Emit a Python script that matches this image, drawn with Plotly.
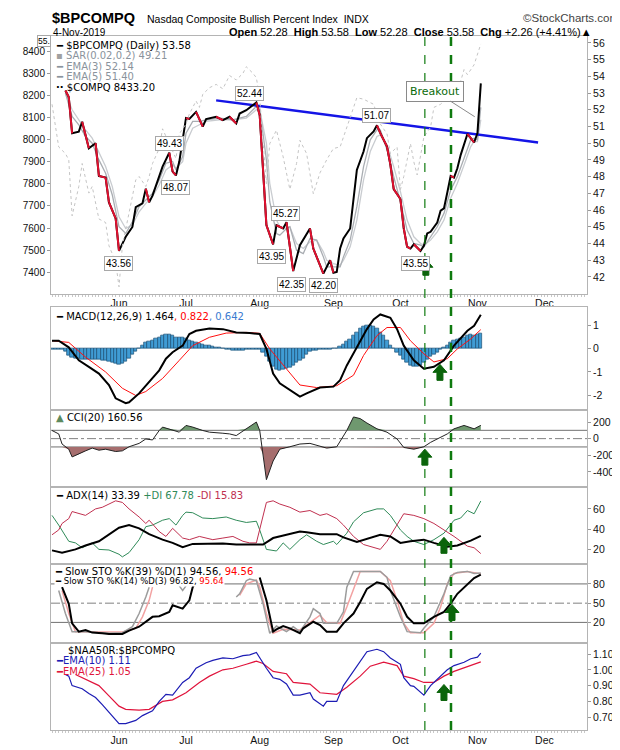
import plotly.graph_objects as go

# x positions are trading sessions counted from 3-Jun-2019 (0); 4-Nov-2019 is 108
month_days = [0, 20, 42, 64, 84, 107, 127]
month_labels = ["Jun", "Jul", "Aug", "Sep", "Oct", "Nov", "Dec"]

# $BPCOMPQ daily close
bp_day = [-16, -15, -14, -12, -11, -9, -7, -6, -4, -3, -1, 0, 2, 4, 5, 7, 8, 9, 10, 12,
          13, 15, 16, 17, 18, 20, 21, 23, 25, 26, 29, 31, 33, 35, 36, 38, 41, 42, 44, 46,
          47, 49, 50, 52, 54, 57, 58, 61, 63, 64, 65, 66, 67, 69, 70, 71, 73, 74, 76, 77,
          78, 80, 81, 82, 84, 85, 86, 87, 88, 90, 91, 92, 93, 95, 96, 97, 98, 99, 100, 101,
          102, 103, 104, 105, 106, 107, 108]
bp_val = [53.15, 52.76, 50.59, 50.69, 51.28, 49.7, 50.0, 48.04, 47.94, 46.46, 45.5, 43.56, 44.4, 44.99, 46.17, 46.4, 47.27, 46.46, 46.86, 48.04,
          48.6, 49.43, 48.3, 48.07, 48.9, 51.5, 51.45, 51.87, 50.99, 51.44, 51.58, 51.38, 51.58, 51.18, 51.77, 51.97, 52.44, 51.67, 45.1, 43.95,
          45.09, 44.9, 45.27, 42.35, 43.9, 44.9, 43.7, 42.2, 43.0, 42.25, 42.3, 43.7, 44.3, 44.9, 46.86, 48.4, 49.5, 50.3, 50.7, 51.07,
          50.6, 49.8, 48.72, 47.25, 46.66, 44.9, 43.8, 43.7, 43.95, 43.55, 43.86, 44.6, 44.7, 45.25, 45.97, 46.1, 47.05, 48.04, 47.94, 48.5,
          49.3, 50.0, 50.55, 50.3, 50.04, 50.6, 53.58]

# EMA(3) and EMA(5) of $BPCOMPQ
ema_day = [-16, -14, -12, -10, -8, -6, -4, -2, 0, 2, 4, 6, 8, 10, 12, 14, 16, 17, 19, 20,
           22, 24, 26, 30, 34, 38, 41, 42, 44, 45, 47, 48, 50, 51, 53, 55, 57, 59, 61, 62,
           64, 66, 67, 69, 71, 73, 75, 77, 78, 80, 82, 84, 86, 88, 90, 91, 93, 95, 97, 99,
           101, 103, 105, 106, 107, 108]
ema3_val = [53.0, 51.6, 51.1, 50.4, 50.0, 49.0, 48.2, 46.9, 45.0, 44.6, 45.3, 46.2, 46.6, 47.0, 47.8, 48.8, 48.9, 48.4, 49.2, 50.6,
            51.3, 51.3, 51.4, 51.5, 51.4, 51.6, 52.2, 52.1, 49.0, 46.5, 44.6, 44.5, 44.9, 45.0, 43.6, 43.4, 44.3, 44.2, 43.2, 42.6,
            42.6, 42.6, 43.2, 44.2, 46.2, 48.6, 50.2, 50.8, 50.8, 49.6, 48.0, 46.5, 44.8, 44.0, 43.9, 43.8, 44.4, 45.0, 45.8, 47.2,
            48.0, 49.1, 50.2, 50.3, 50.2, 52.14]
ema5_val = [53.0, 52.0, 51.4, 50.8, 50.3, 49.4, 48.6, 47.4, 45.6, 44.9, 45.1, 45.9, 46.4, 46.8, 47.5, 48.4, 48.7, 48.5, 48.9, 50.0,
            50.9, 51.1, 51.3, 51.4, 51.4, 51.5, 52.0, 52.0, 50.0, 47.6, 45.4, 45.0, 44.9, 45.0, 44.0, 43.7, 44.1, 44.2, 43.5, 43.0,
            42.8, 42.7, 43.0, 43.8, 45.4, 47.8, 49.5, 50.4, 50.5, 49.9, 48.6, 47.1, 45.4, 44.4, 44.0, 43.9, 44.2, 44.7, 45.4, 46.7,
            47.6, 48.7, 49.8, 50.1, 50.1, 51.4]

# $COMPQ overlay (left scale)
cq_day = [-20, -18, -16, -15, -14, -12, -11, -9, -8, -6, -4, -3, -1, 0, 1, 3, 5, 6, 8, 9,
          10, 12, 13, 15, 17, 18, 20, 21, 23, 24, 25, 27, 29, 31, 33, 35, 37, 38, 40, 41,
          42, 43, 44, 45, 46, 47, 49, 51, 53, 54, 56, 58, 60, 62, 64, 66, 69, 71, 73, 74,
          76, 78, 80, 81, 83, 84, 85, 87, 88, 89, 91, 93, 94, 96, 97, 99, 100, 102, 103, 104,
          106, 107, 108]
cq_val = [8160, 7967, 7937, 7909, 7655, 7788, 7892, 7758, 7788, 7641, 7625, 7520, 7446, 7334, 7520, 7669, 7818, 7833, 7788, 7833,
          7892, 7960, 8049, 7982, 7915, 8026, 8071, 8116, 8175, 8146, 8205, 8235, 8250, 8230, 8290, 8270, 8300, 8330, 8300, 8280,
          8190, 7990, 7800, 7982, 8012, 8043, 7922, 7775, 7892, 7997, 7937, 7755, 7850, 7909, 7960, 7967, 8100, 8190, 8183, 8175,
          8160, 8071, 8026, 7937, 7967, 7774, 7833, 7982, 7900, 7840, 8012, 8056, 8146, 8160, 8175, 8220, 8235, 8265, 8317, 8294,
          8339, 8391, 8433]

# drawn resistance line (end points)
trend_day = [29.0, 125.1]
trend_val = [52.56, 50.04]

# peak / trough value labels: text, session, level
peak_labels = [("52.44", 38.9, 52.99), ("49.43", 15.0, 49.98), ("48.07", 16.8, 47.36),
               ("43.56", -0.3, 42.81), ("45.27", 49.8, 45.82), ("43.95", 45.6, 43.2),
               ("42.35", 51.6, 41.57), ("42.20", 60.9, 41.49), ("51.07", 76.8, 51.65),
               ("43.55", 88.6, 42.81)]

# MACD(12,26,9)
macd_day = [-20, -18, -15, -12, -9, -6, -3, -1, 2, 3, 6, 9, 12, 14, 16, 19, 21, 23, 27, 31,
            35, 39, 42, 44, 46, 48, 51, 54, 56, 60, 64, 66, 68, 71, 74, 76, 78, 81, 83, 85,
            88, 91, 94, 97, 100, 104, 106, 108]
macd_val = [0.34, 0.34, 0.06, -0.5, -0.78, -1.07, -1.56, -2.13, -2.34, -2.3, -1.92, -1.42, -0.93, -0.43, -0.15, 0.13, 0.63, 0.77, 0.87, 0.84,
            0.7, 0.67, 0.63, -0.01, -1.07, -1.49, -1.78, -2.06, -1.92, -1.67, -1.63, -1.35, -0.72, 0.06, 0.84, 1.26, 1.47, 1.33, 0.84, 0.13,
            -0.5, -0.86, -0.78, -0.5, 0.13, 0.77, 0.98, 1.46]
sig_day = [-20, -15, -10, -4, 1, 5, 8, 13, 18, 22, 27, 32, 38, 42, 45, 50, 54, 59, 65, 70,
           73, 77, 80, 84, 87, 91, 94, 98, 101, 105, 108]
sig_val = [0.34, 0.27, -0.36, -1.0, -1.7, -2.01, -1.84, -1.28, -0.5, 0.13, 0.49, 0.67, 0.7, 0.66, -0.01, -0.86, -1.56, -1.67, -1.59, -1.14,
           -0.29, 0.56, 0.91, 0.91, 0.34, -0.22, -0.57, -0.43, -0.01, 0.42, 0.82]
hist_start = -20
hist_val = [-0.02, -0.02, -0.03, -0.05, -0.1, -0.3, -0.36, -0.4, -0.43, -0.45,
            -0.46, -0.47, -0.47, -0.48, -0.48, -0.49, -0.5, -0.54, -0.58, -0.62,
            -0.68, -0.65, -0.55, -0.42, -0.25, -0.1, 0.0, 0.15, 0.25, 0.3,
            0.35, 0.42, 0.5, 0.58, 0.62, 0.62, 0.55, 0.5, 0.5, 0.48,
            0.42, 0.35, 0.3, 0.28, 0.22, 0.18, 0.15, 0.12, 0.1, 0.07,
            0.05, 0.02, -0.03, -0.05, -0.07, -0.08, -0.08, -0.07, -0.05, -0.04,
            -0.03, -0.02, -0.02, -0.15, -0.35, -0.55, -0.75, -0.9, -0.95, -0.9,
            -0.85, -0.8, -0.72, -0.6, -0.5, -0.4, -0.25, -0.12, -0.08, -0.06,
            -0.05, -0.05, -0.03, -0.03, 0.0, 0.02, 0.1, 0.2, 0.3, 0.4,
            0.55, 0.7, 0.85, 0.95, 1.0, 1.0, 0.95, 0.85, 0.7, 0.55,
            0.35, 0.15, 0.0, -0.15, -0.3, -0.45, -0.6, -0.72, -0.75, -0.75,
            -0.7, -0.6, -0.45, -0.35, -0.25, -0.15, -0.05, 0.05, 0.15, 0.25,
            0.35, 0.4, 0.45, 0.5, 0.55, 0.6, 0.58, 0.6, 0.64]

# CCI(20)
cci_day = [-20, -18, -17, -15, -14, -12, -10, -8, -6, -4, -1, 1, 3, 6, 8, 10, 12, 13, 15, 18,
           20, 22, 25, 27, 31, 33, 35, 38, 41, 42, 43, 44, 46, 48, 51, 54, 57, 60, 62, 65,
           67, 68, 70, 72, 74, 77, 80, 83, 85, 88, 91, 93, 95, 98, 100, 103, 106, 108]
cci_val = [98, 57, -65, -127, -220, -188, -147, -114, -139, -127, -155, -147, -98, -57, -4, -16, 98, 139, 118, 78,
           159, 139, 98, 78, 65, 57, 37, 118, 200, 98, -188, -494, -269, -127, -98, -65, -57, -86, -114, -98,
           37, 98, 261, 241, 188, 118, 78, -4, -106, -127, -98, -45, -4, 57, 118, 159, 118, 160]
cci_levels = [100, -100]

# ADX(14), +DI, -DI
adx_day = [-20, -17, -13, -10, -6, -3, 0, 3, 6, 9, 13, 16, 19, 22, 26, 31, 35, 40, 43, 46,
           49, 54, 56, 60, 65, 67, 71, 74, 78, 81, 84, 87, 91, 94, 98, 101, 105, 108]
adx_val = [19, 16.8, 20, 23.8, 28, 34.4, 41.4, 44, 40.8, 35, 29.6, 26.4, 22.2, 25.4, 25.8, 25.8, 24.8, 24.8, 24.8, 31.2,
           33.4, 37.6, 37, 35, 35, 31.8, 27.4, 30.6, 34.4, 32.8, 26.4, 28, 29.6, 26.4, 22.6, 23.8, 28.6, 33.39]
pdi_day = [-20, -18, -15, -13, -11, -8, -6, -3, 0, 1, 3, 6, 8, 10, 13, 15, 17, 19, 20, 22,
           25, 28, 32, 35, 38, 41, 42, 44, 47, 49, 51, 54, 56, 59, 61, 64, 65, 68, 70, 73,
           77, 79, 81, 84, 86, 88, 91, 94, 97, 100, 102, 104, 106, 108]
pdi_val = [53.6, 44, 28, 26.4, 21.6, 26.4, 20, 19.4, 15.2, 12.6, 16.8, 29.6, 42.4, 44, 48.8, 50.4, 44, 53.6, 56.8, 56.2,
           51, 50.4, 52, 48.8, 46.6, 47.8, 39.2, 20, 18.4, 26.4, 20, 29.6, 34.4, 28, 24.8, 28, 24.8, 36, 47.2, 56.2,
           60, 60, 53.6, 39.2, 32.8, 28, 24.8, 29.6, 36, 48.8, 51, 58.4, 55.2, 67.78]
mdi_day = [-20, -18, -17, -15, -14, -12, -10, -7, -5, -3, -1, 1, 3, 6, 8, 9, 12, 14, 16, 19,
           21, 24, 26, 28, 31, 34, 37, 39, 41, 44, 46, 48, 51, 54, 57, 60, 62, 65, 67, 70,
           73, 78, 80, 83, 85, 88, 91, 94, 97, 100, 104, 106, 108]
mdi_val = [34.4, 39.2, 45.6, 50.4, 57.4, 55.2, 53.6, 60, 61.6, 64.8, 68, 66.4, 60, 52, 45.6, 48.8, 37.6, 32.8, 40.8, 31.2,
           29.6, 32.8, 31.2, 29.6, 31.2, 32.8, 28, 26.4, 26.4, 66.4, 68, 64.8, 61.6, 56.8, 58.4, 53.6, 55.2, 50.4, 44, 32.8,
           24.8, 20, 28, 44, 55.2, 53.6, 50.4, 45.6, 39.2, 32.8, 23.2, 21.6, 15.83]

# Slow stochastics (None = hidden behind the legend)
k39_day = [-17, -15, -14, -12, -10, -8, -5, -3, 1, 3, 6, 8, 10, 12, 15, 16, 19, 21, 22, 23,
           30, 42, 44, 46, 47, 49, 51, 54, 55, 58, 60, 62, 65, 67, 70, 72, 74, 77, 79, 81,
           84, 86, 88, 91, 94, 97, 99, 101, 104, 106, 108]
k39_val = [74.9, 49, 18.5, 5.6, 8.2, 4.1, 3.1, 2, 2, 7.2, 13.3, 21, 28.7, 29.7, 36.4, 46.7, 41.5, 54.4, 74.9, 85,
           None, 90, 54.4, 5.6, 9.2, 14.4, 10.8, 3.1, 10.8, 21, 15.9, 5.6, 5.6, 18.5, 33.8, 51.8, 72.3, 82.6, 80, 69.7,
           49.2, 28.7, 18.5, 18.5, 28.7, 36.4, 49.2, 64.6, 80, 89.2, 94.56]
k14_day = [-18, -16, -14, -12, -10, -3, 1, 4, 6, 8, 9, 14, 18, 19, 20, 27, 35, 36, 38, 39,
           41, 43, 45, 47, 50, 52, 54, 57, 58, 60, 61, 65, 67, 68, 70, 73, 78, 80, 81, 84,
           86, 90, 91, 94, 97, 99, 101, 104, 106, 108]
k14_val = [69.7, 33.8, 5.6, 5.6, 5.6, 3, 4, 13.3, 33.8, 59.5, 74.9, None, 77, 69.7, 77, None, 59.5, 64.6, 85, 87.7,
           85, 49.2, 3, 14.4, 5.6, 13.3, 5.6, 28.7, 41.5, 33.8, 18.5, 18.5, 36.4, 74.9, 99.5, 99.5, 99.5, 90.3, 69.7, 28.7,
           5.6, 4, 10.8, 28.7, 64.6, 92.8, 98, 99.5, 96.4, 96.82]
d3_day = [-17, -15, -13, -3, 1, 5, 7, 9, 10, 20, 36, 38, 41, 42, 44, 46, 49, 54, 58, 60,
          62, 66, 68, 71, 72, 78, 81, 83, 85, 87, 91, 94, 96, 98, 100, 104, 108]
d3_val = [69.7, 33.8, 5.6, 5, 5, 10.8, 28.7, 54.4, 74.9, None, 62, 80, 86, 75, 33.8, 3, 9.2, 8.2, 23.6, 31.3,
          19.5, 18.5, 44.1, 85, 99.5, 99.5, 85, 54.4, 18.5, 4, 4, 18.5, 44.1, 80, 96.4, 99.5, 95.64]
sto_levels = [80, 20]

# $NAA50R:$BPCOMPQ ratio EMAs
ema10_day = [-16, -15, -14, -11, -9, -7, -5, -3, 0, 2, 5, 7, 10, 12, 14, 16, 19, 21, 23, 26,
             28, 31, 34, 37, 39, 41, 42, 44, 46, 48, 50, 52, 54, 57, 58, 61, 62, 65, 67, 70,
             72, 74, 77, 79, 81, 84, 85, 87, 88, 91, 93, 96, 98, 100, 103, 105, 107, 108]
ema10_val = [0.97, 0.96, 0.90, 0.88, 0.85, 0.825, 0.78, 0.73, 0.66, 0.66, 0.68, 0.71, 0.74, 0.80, 0.845, 0.84, 0.92, 0.95, 1.01, 1.045,
             1.06, 1.075, 1.07, 1.09, 1.095, 1.11, 1.075, 1.01, 0.95, 0.94, 0.91, 0.84, 0.84, 0.855, 0.815, 0.77, 0.80, 0.80, 0.90, 0.99,
             1.055, 1.115, 1.13, 1.115, 1.075, 1.035, 0.95, 0.90, 0.895, 0.84, 0.90, 0.96, 1.00, 1.027, 1.048, 1.07, 1.08, 1.105]
ema25_day = [-13, -10, -6, -3, 0, 2, 6, 9, 13, 16, 20, 24, 27, 31, 34, 38, 41, 43, 46, 50,
             52, 57, 60, 65, 68, 72, 75, 79, 83, 85, 88, 91, 94, 97, 100, 104, 107, 108]
ema25_val = [0.97, 0.94, 0.90, 0.835, 0.77, 0.75, 0.745, 0.75, 0.80, 0.81, 0.855, 0.92, 0.96, 1.00, 1.01, 1.035, 1.055, 1.04, 0.99, 0.975,
             0.92, 0.91, 0.855, 0.845, 0.89, 0.96, 1.023, 1.048, 1.027, 0.96, 0.944, 0.92, 0.92, 0.96, 0.99, 1.02, 1.04, 1.05]

# signal markers
signal_days = [91.3, 99.1]
arrow_marks = [(91.6, 42.1, "y"), (95.8, -1.36, "y2"), (91.3, -319, "y3"),
               (97.0, 16.1, "y4"), (99.4, 23.0, "y5"), (97.0, 0.806, "y6")]

# tick labels
main_ticks = list(range(42, 57))
cq_ticks = [7400, 7500, 7600, 7700, 7800, 7900, 8000, 8100, 8200, 8300, 8400]
macd_ticks = [1, 0, -1, -2]
cci_ticks = [200, 0, -200, -400]
adx_ticks = [60, 40, 20]
sto_ticks = [80, 50, 20]
naa_ticks = [1.10, 1.00, 0.90, 0.80, 0.70]

# ---------------------------------------------------------------------------
W, H = 620, 750
L, R, T, B = 43, 579, 28, 731


def px_x(px):
    return (px - L) / (R - L)


def px_y(py):
    return (B - py) / (B - T)


BORDER = "#b4b4b4"
FONT = "DejaVu Sans"
TICKFONT = dict(family="Liberation Sans", size=10.5, color="#111")

fig = go.Figure()

# ---- main panel ----
fig.add_trace(go.Scatter(x=cq_day, y=cq_val, xaxis="x", yaxis="y7", mode="lines",
                         line=dict(color="#c4c4c4", width=1, dash="dot")))
fig.add_trace(go.Scatter(x=ema_day, y=ema5_val, xaxis="x", yaxis="y", mode="lines",
                         line=dict(color="#c9ccd0", width=1.3)))
fig.add_trace(go.Scatter(x=ema_day, y=ema3_val, xaxis="x", yaxis="y", mode="lines",
                         line=dict(color="#a9adb2", width=1.3)))
fig.add_trace(go.Scatter(x=trend_day, y=trend_val, xaxis="x", yaxis="y", mode="lines",
                         line=dict(color="#1414e6", width=2.5)))
fig.add_trace(go.Scatter(x=bp_day, y=bp_val, xaxis="x", yaxis="y", mode="lines",
                         line=dict(color="black", width=2)))
red_x, red_y = [], []
for k in range(1, len(bp_val)):
    if bp_val[k] < bp_val[k - 1]:
        red_x += [bp_day[k - 1], bp_day[k], None]
        red_y += [bp_val[k - 1], bp_val[k], None]
fig.add_trace(go.Scatter(x=red_x, y=red_y, xaxis="x", yaxis="y", mode="lines",
                         line=dict(color="#e0102f", width=2)))

# ---- MACD ----
fig.add_trace(go.Bar(x=list(range(hist_start, hist_start + len(hist_val))), y=hist_val,
                     xaxis="x2", yaxis="y2", width=1.0,
                     marker=dict(color="#409cd4", line=dict(color="#1b4f74", width=0.7))))
fig.add_trace(go.Scatter(x=sig_day, y=sig_val, xaxis="x2", yaxis="y2", mode="lines",
                         line=dict(color="#ff1010", width=1)))
fig.add_trace(go.Scatter(x=macd_day, y=macd_val, xaxis="x2", yaxis="y2", mode="lines",
                         line=dict(color="black", width=2)))

# ---- CCI ----
fig.add_trace(go.Scatter(x=cci_day, y=[cci_levels[0]] * len(cci_day), xaxis="x3", yaxis="y3",
                         mode="lines", line=dict(width=0)))
fig.add_trace(go.Scatter(x=cci_day, y=[max(v, cci_levels[0]) for v in cci_val], xaxis="x3", yaxis="y3",
                         mode="lines", line=dict(width=0), fill="tonexty", fillcolor="#6f986f"))
fig.add_trace(go.Scatter(x=cci_day, y=[cci_levels[1]] * len(cci_day), xaxis="x3", yaxis="y3",
                         mode="lines", line=dict(width=0)))
fig.add_trace(go.Scatter(x=cci_day, y=[min(v, cci_levels[1]) for v in cci_val], xaxis="x3", yaxis="y3",
                         mode="lines", line=dict(width=0), fill="tonexty", fillcolor="#a66e6e"))
fig.add_trace(go.Scatter(x=cci_day, y=cci_val, xaxis="x3", yaxis="y3", mode="lines",
                         line=dict(color="#222", width=1)))

# ---- ADX ----
fig.add_trace(go.Scatter(x=pdi_day, y=pdi_val, xaxis="x4", yaxis="y4", mode="lines",
                         line=dict(color="#2f8a58", width=1)))
fig.add_trace(go.Scatter(x=mdi_day, y=mdi_val, xaxis="x4", yaxis="y4", mode="lines",
                         line=dict(color="#c0304f", width=1)))
fig.add_trace(go.Scatter(x=adx_day, y=adx_val, xaxis="x4", yaxis="y4", mode="lines",
                         line=dict(color="black", width=2)))

# ---- Slow STO ----
fig.add_trace(go.Scatter(x=d3_day, y=d3_val, xaxis="x5", yaxis="y5", mode="lines",
                         line=dict(color="#f2a2a2", width=1.5), connectgaps=False))
fig.add_trace(go.Scatter(x=k14_day, y=k14_val, xaxis="x5", yaxis="y5", mode="lines",
                         line=dict(color="#9c9c9c", width=1.5), connectgaps=False))
fig.add_trace(go.Scatter(x=k39_day, y=k39_val, xaxis="x5", yaxis="y5", mode="lines",
                         line=dict(color="black", width=2), connectgaps=False))

# ---- NAA50R ratio ----
fig.add_trace(go.Scatter(x=ema25_day, y=ema25_val, xaxis="x6", yaxis="y6", mode="lines",
                         line=dict(color="#e0143c", width=1.2)))
fig.add_trace(go.Scatter(x=ema10_day, y=ema10_val, xaxis="x6", yaxis="y6", mode="lines",
                         line=dict(color="#1c1cb4", width=1.2)))

# ---- axes ----
panels = {
    "": ([px_y(289), 1.0], [41.0, 56.41], main_ticks, None),
    "2": ([px_y(407), px_y(303)], [-2.64, 1.77], macd_ticks, None),
    "3": ([px_y(485), px_y(407)], [-584, 343], cci_ticks, None),
    "4": ([px_y(563), px_y(485)], [5.4, 81.5], adx_ticks, None),
    "5": ([px_y(643), px_y(563)], [-12.3, 110.8], sto_ticks, None),
    "6": ([0.0, px_y(643)], [0.619, 1.169], naa_ticks, [f"{v:.2f}" for v in naa_ticks]),
}
x_range = [-20.3, 139.7]
minor_x = dict(ticks="outside", tickmode="linear", tick0=0, dtick=1, ticklen=2, tickcolor="#c8c8c8")
for suffix, (dom, rng, ticks, ttext) in panels.items():
    show_x = suffix in ("", "6")
    xa = dict(domain=[0, 1], range=x_range, anchor="y" + suffix, tickvals=month_days,
              ticktext=month_labels, showticklabels=show_x, ticks="", showgrid=False,
              zeroline=False, showline=True, mirror=True, linecolor=BORDER, linewidth=1,
              tickfont=TICKFONT)
    if show_x:
        xa["minor"] = minor_x
    ya = dict(domain=dom, range=rng, anchor="x" + suffix, side="right", tickvals=ticks,
              ticktext=ttext if ttext else [str(t) for t in ticks],
              showgrid=False, zeroline=False, showline=True, mirror=True, linecolor=BORDER,
              linewidth=1, ticks="outside", ticklen=3, tickcolor="#999", tickfont=TICKFONT)
    fig.update_layout(**{"xaxis" + suffix: xa, "yaxis" + suffix: ya})

fig.update_layout(yaxis7=dict(overlaying="y", side="left", anchor="x", range=[7303, 8469],
                              tickvals=cq_ticks, showgrid=False, zeroline=False, showline=False,
                              ticks="outside", ticklen=3, tickcolor="#999",
                              tickfont=dict(family="Liberation Sans", size=10, color="#111")))

# ---- reference lines ----
for lv in cci_levels:
    fig.add_shape(type="line", xref="paper", x0=0, x1=1, yref="y3", y0=lv, y1=lv,
                  line=dict(color="#707070", width=1), layer="below")
fig.add_shape(type="line", xref="paper", x0=0, x1=1, yref="y3", y0=0, y1=0,
              line=dict(color="#808080", width=1, dash="dashdot"), layer="below")
for lv in sto_levels:
    fig.add_shape(type="line", xref="paper", x0=0, x1=1, yref="y5", y0=lv, y1=lv,
                  line=dict(color="#707070", width=1), layer="below")
fig.add_shape(type="line", xref="paper", x0=0, x1=1, yref="y5", y0=50, y1=50,
              line=dict(color="#808080", width=1, dash="dashdot"), layer="below")

# ---- signal lines and arrows ----
fig.add_shape(type="line", xref="x", yref="paper", x0=signal_days[0], x1=signal_days[0], y0=0, y1=1,
              line=dict(color="#0f7a0f", width=1.2, dash="dash"))
fig.add_shape(type="line", xref="x", yref="paper", x0=signal_days[1], x1=signal_days[1], y0=0, y1=1,
              line=dict(color="#0f7a0f", width=2.5, dash="dash"))
arrow_path = "M -3,0 L 3,0 L 3,8 L 7,8 L 0,16 L -7,8 L -3,8 Z"
for d, v, yr in arrow_marks:
    fig.add_shape(type="path", path=arrow_path, xref="x", yref=yr,
                  xsizemode="pixel", ysizemode="pixel", xanchor=d, yanchor=v,
                  fillcolor="#0b640b", line=dict(color="#0b640b", width=1))

# ---- annotations ----
ann = []


def note(text, px, py, size=10, color="black", anchor="left", bg=None, family=FONT):
    d = dict(text=text, xref="paper", yref="paper", x=px_x(px), y=px_y(py), showarrow=False,
             xanchor=anchor, yanchor="middle", font=dict(family=family, size=size, color=color))
    if bg:
        d["bgcolor"] = bg
        d["borderpad"] = 0
    ann.append(d)


note("<b>$BPCOMPQ</b>", 42, 9.5, size=14.5, family="Liberation Sans")
note("Nasdaq Composite Bullish Percent Index  INDX", 137, 11, size=10.5, family="Liberation Sans")
note("©StockCharts.com", 613, 10, size=11.5, color="#444", anchor="right", family="Liberation Sans")
note("4-Nov-2019", 43, 24, size=10, family="Liberation Sans")
note("<b>Open</b> 52.28  <b>High</b> 53.58  <b>Low</b> 52.28  <b>Close</b> 53.58  "
     "<b>Chg</b> +2.26 (+4.41%)▲", 586, 24, size=11, anchor="right", family="Liberation Sans")

gray_txt = "#8a939c"
note("<b>━</b> $BPCOMPQ (Daily) 53.58", 46, 37.5)
note("<span style='color:#a0a0a0'>▪</span> SAR(0.02,0.2) 49.21", 46, 48, color=gray_txt)
note("<b>━</b> EMA(3) 52.14", 46, 58.5, color=gray_txt)
note("<b>━</b> EMA(5) 51.40", 46, 69, color=gray_txt)
note("<b>··</b> $COMPQ 8433.20", 46, 80)

note("<b>━</b> MACD(12,26,9) 1.464<span style='color:#ff0000'>, 0.822</span>"
     "<span style='color:#3a7bd0'>, 0.642</span>", 46, 312)
note("<span style='color:#5d8a5d'>▲</span> CCI(20) 160.56", 46, 414)
note("<b>━</b> ADX(14) 33.39 <span style='color:#2f8a58'>+DI 67.78</span> "
     "<span style='color:#c0304f'>-DI 15.83</span>", 46, 493)
note("<b>━</b> Slow STO %K(39) %D(1) 94.56, <span style='color:#ff0000'>94.56</span>", 46, 570, bg="white")
note("<b>━</b> Slow STO %K(14) %D(3) 96.82, <span style='color:#ff0000'>95.64</span>", 46, 580,
     size=8.5, bg="white")
note("$NAA50R:$BPCOMPQ", 58, 650)
note("<span style='color:#1c1cb4'><b>━</b>EMA(10) 1.11</span>", 46, 661, color="#1c1c90")
note("<span style='color:#e0143c'><b>━</b>EMA(25) 1.05</span>", 46, 672)

# value box at the left edge
ann.append(dict(text="55.", xref="paper", yref="paper", x=0, y=px_y(33), xanchor="right",
                yanchor="middle", showarrow=False, bgcolor="white", bordercolor="#a8a8a8",
                borderwidth=1, borderpad=0, font=dict(family="Liberation Sans", size=8.5)))
for txt, d, v in peak_labels:
    ann.append(dict(text=txt, xref="x", yref="y", x=d, y=v, showarrow=False,
                    bgcolor="white", bordercolor="#a8a8a8", borderwidth=1, borderpad=1,
                    font=dict(family="Liberation Sans", size=10, color="black")))

ann.append(dict(text="Breakout", xref="x", yref="y", x=106.2, y=51.58, axref="x", ayref="y",
                ax=94.3, ay=53.11, showarrow=True, arrowhead=0, arrowwidth=1, arrowcolor="#8a8a8a",
                bgcolor="white", bordercolor="#8a8a8a", borderwidth=1, borderpad=3,
                font=dict(family=FONT, size=11, color="#0a6a0a")))

fig.update_layout(
    width=W, height=H, autosize=False,
    margin=dict(l=L, r=W - R, t=T, b=H - B),
    paper_bgcolor="white", plot_bgcolor="white",
    showlegend=False, bargap=0,
    font=dict(family=FONT, size=10, color="black"),
    annotations=ann,
)

fig.write_html("out.html")
